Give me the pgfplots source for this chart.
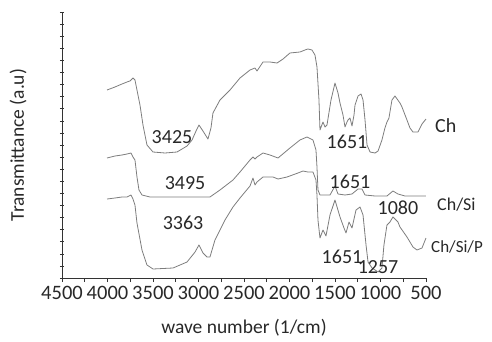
\documentclass[border=0pt]{standalone}
\usepackage{pgfplots}
\pgfplotsset{compat=1.18}
\usepackage{fontspec}
\setmainfont{Carlito}
\definecolor{curve}{RGB}{125,125,125}
\definecolor{txt}{RGB}{40,40,40}
\begin{document}
\begin{tikzpicture}
\path[use as bounding box] (0,0) rectangle (492pt,341pt);
\begin{axis}[
  at={(62pt,63pt)}, anchor=south west,
  scale only axis, width=364pt, height=266pt,
  x dir=reverse, xmin=500, xmax=4500, ymin=0, ymax=266,
  axis lines=left, axis line style={-, draw=black!80, line width=0.8pt},
  xtick={500,1000,...,4500}, minor x tick num=1,
  ytick distance=12.0909, yticklabels={},
  xtick align=outside, ytick align=center,
  major tick length=4pt, minor tick length=4pt,
  tick style={draw=black!80, line width=0.6pt},
  /pgf/number format/assume math mode=true,
  /pgf/number format/set thousands separator={},
  ticklabel style={font=\fontsize{20.5}{24}\selectfont, text=txt},
  xticklabel style={yshift=-1pt},
  xlabel={wave number (1/cm)}, ylabel={Transmittance (a.u)},
  every axis x label/.style={at={(axis description cs:0.5,0)}, anchor=center, yshift=-50pt, font=\fontsize{19.5}{22}\selectfont, text=txt},
  every axis y label/.style={at={([xshift=-44pt]axis description cs:0,0.5)}, anchor=center, rotate=90, font=\fontsize{19.5}{22}\selectfont, text=txt},
  clip=false,
]
% Ch
\addplot[curve, line width=0.8pt, line join=round] coordinates {
(4005,188)(3918,191)(3841,194)(3786,196)(3753,197)(3720,200)(3698,198)(3676,188)(3643,173)(3610,153)(3566,133)(3500,126)(3368,125)(3236,126)(3126,132)(3071,138)(3027,147)(2995,153)(2951,147)(2896,139)(2863,150)(2841,165)(2764,178)(2654,188)(2544,200)(2434,208)(2379,210)(2357,207)(2335,210)(2291,216)(2214,216)(2137,215)(2071,219)(1995,225)(1885,226)(1830,228)(1797,229)(1753,228)(1720,223)(1698,211)(1676,178)(1665,148)(1632,156)(1610,151)(1588,153)(1544,178)(1500,195)(1467,185)(1445,175)(1412,163)(1390,151)(1368,156)(1357,158)(1335,160)(1313,152)(1291,163)(1280,173)(1247,182)(1214,184)(1192,178)(1170,158)(1148,133)(1115,126)(1060,125)(1027,127)(984,138)(951,150)(929,156)(907,160)(896,166)(874,178)(841,182)(786,175)(764,171)(709,158)(676,150)(643,146)(588,146)(544,154)(500,159)
};
% Ch/Si
\addplot[curve, line width=0.8pt, line join=round] coordinates {
(4005,120)(3918,122)(3841,123)(3786,124)(3742,125)(3720,121)(3698,118)(3676,101)(3654,88)(3621,83)(3533,81)(3170,81)(2874,81)(2764,88)(2621,98)(2544,106)(2434,118)(2401,121)(2379,119)(2357,121)(2291,125)(2214,123)(2126,120)(1995,130)(1885,138)(1808,141)(1742,138)(1709,128)(1698,111)(1687,88)(1665,83)(1555,83)(1500,92)(1467,84)(1390,83)(1313,84)(1247,89)(1203,89)(1170,83)(1060,82)(929,82)(863,87)(808,84)(731,82)(500,82)
};
% Ch/Si/P
\addplot[curve, line width=0.8pt, line join=round] coordinates {
(4005,79)(3918,80)(3841,81)(3786,81)(3742,83)(3720,79)(3698,73)(3676,55)(3621,28)(3566,13)(3500,9)(3280,10)(3126,16)(3038,26)(2995,33)(2951,25)(2907,21)(2874,21)(2819,38)(2764,48)(2709,58)(2621,71)(2544,80)(2434,92)(2401,100)(2379,93)(2357,96)(2291,101)(2181,101)(2126,99)(2027,101)(1907,105)(1852,107)(1797,106)(1742,106)(1709,98)(1698,83)(1687,58)(1665,40)(1632,48)(1599,42)(1555,63)(1500,78)(1445,61)(1401,50)(1379,45)(1346,56)(1313,50)(1269,68)(1225,71)(1192,63)(1159,33)(1137,16)(1093,10)(1027,6)(984,10)(962,33)(929,53)(896,56)(863,61)(808,56)(786,51)(709,41)(643,31)(599,28)(544,30)(500,40)
};
\begin{scope}[every node/.style={font=\fontsize{20}{22}\selectfont, text=txt, anchor=center, inner sep=0pt}]
\node at (axis cs:3291,141) {3425};
\node at (axis cs:3148,95) {3495};
\node at (axis cs:3170,55) {3363};
\node at (axis cs:1368,136) {1651};
\node at (axis cs:1335,96) {1651};
\node at (axis cs:808,70) {1080};
\node at (axis cs:1423,21) {1651};
\node at (axis cs:1027,11) {1257};
\node[anchor=west] at (axis cs:401,152) {Ch};
\node[anchor=west, font=\fontsize{18}{22}\selectfont] at (axis cs:379,73) {Ch/Si};
\node[anchor=west, font=\fontsize{17}{22}\selectfont] at (axis cs:445,31) {Ch/Si/P};
\end{scope}
\end{axis}
\end{tikzpicture}
\end{document}
